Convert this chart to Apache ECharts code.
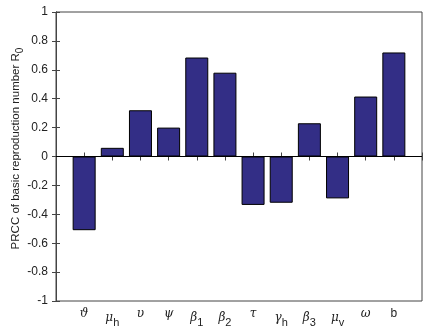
<!DOCTYPE html>
<html>
<head>
<meta charset="utf-8">
<script src="https://cdn.jsdelivr.net/npm/echarts@6/dist/echarts.min.js"></script>
<style>html,body{margin:0;padding:0;background:#fff}#c{width:430px;height:326px}</style>
</head>
<body>
<div id="c"></div>
<script>
// category labels: [main symbol, subscript, isGreek]
const categories = [
  ['ϑ', '', true], ['μ', 'h', true], ['υ', '', true], ['ψ', '', true],
  ['β', '1', true], ['β', '2', true], ['τ', '', true], ['γ', 'h', true],
  ['β', '3', true], ['μ', 'v', true], ['ω', '', true], ['b', '', false]
];
const prcc = [-0.51, 0.06, 0.32, 0.20, 0.685, 0.58, -0.335, -0.32, 0.23, -0.29, 0.415, 0.72];
const yTicks = [-1, -0.8, -0.6, -0.4, -0.2, 0, 0.2, 0.4, 0.6, 0.8, 1];

const chart = echarts.init(document.getElementById('c'));
const barData = prcc.map((v, i) => [i + 1, v]);
const rich = {
  g: {fontFamily: 'DejaVu Serif', fontStyle: 'italic', fontSize: 12, color: '#222'},
  n: {fontFamily: 'Liberation Sans', fontSize: 12, color: '#222'},
  s: {fontFamily: 'Liberation Sans', fontSize: 11, color: '#222', padding: [9, 0, 0, 0]}
};
const frame = {lineStyle: {color: '#444', width: 1}};
chart.setOption({
  animation: false,
  grid: {left: 56, right: 8, top: 12, bottom: 25, show: true, borderColor: '#444', borderWidth: 1,
         containLabel: false, outerBoundsMode: 'none'},
  xAxis: [{
    type: 'value', min: 0, max: 13, interval: 1, position: 'bottom',
    axisLine: {show: true, ...frame},
    axisTick: {show: true, inside: true, length: 4, ...frame},
    splitLine: {show: false},
    axisLabel: {
      margin: 7, rich: rich,
      formatter: v => {
        if (v < 1 || v > 12) return '';
        const c = categories[v - 1];
        let s = c[2] ? '{g|' + c[0] + '}' : '{n|' + c[0] + '}';
        if (c[1]) s += '{s|' + c[1] + '}';
        return s;
      }
    }
  }, {
    type: 'value', min: 0, max: 13, interval: 1, position: 'top',
    axisLine: {show: true, ...frame},
    axisTick: {show: true, inside: true, length: 4, ...frame},
    axisLabel: {show: false}, splitLine: {show: false}
  }],
  yAxis: [{
    type: 'value', min: -1, max: 1, interval: 0.2, position: 'left',
    axisLine: {show: true, ...frame},
    axisTick: {show: true, inside: true, length: 4, ...frame},
    splitLine: {show: false},
    axisLabel: {
      margin: 8, fontFamily: 'Liberation Sans', fontSize: 12, color: '#222',
      formatter: v => {
        const t = yTicks.find(x => Math.abs(x - v) < 1e-6);
        return t === undefined ? '' : String(t);
      }
    },
    name: '{n|PRCC of basic reproduction number R}{s|0}',
    nameLocation: 'middle', nameRotate: 90, nameGap: 31, nameMoveOverlap: false,
    nameTextStyle: {
      padding: [0, 0, 0, 16],
      rich: {
        n: {fontFamily: 'Liberation Sans', fontSize: 11.5, color: '#222'},
        s: {fontFamily: 'Liberation Sans', fontSize: 10, color: '#222', padding: [8, 0, 0, 0]}
      }
    }
  }, {
    type: 'value', min: -1, max: 1, interval: 0.2, position: 'right',
    axisLine: {show: true, ...frame},
    axisTick: {show: true, inside: true, length: 4, ...frame},
    axisLabel: {show: false}, splitLine: {show: false}
  }],
  series: [{
    type: 'bar', xAxisIndex: 0, yAxisIndex: 0,
    data: barData, barWidth: 23,
    itemStyle: {color: '#332e86', borderColor: '#000', borderWidth: 1},
    markLine: {
      silent: true, symbol: 'none', label: {show: false},
      lineStyle: {color: '#000', width: 1, type: 'solid'},
      data: [{yAxis: 0}]
    }
  }]
});
</script>
</body>
</html>
